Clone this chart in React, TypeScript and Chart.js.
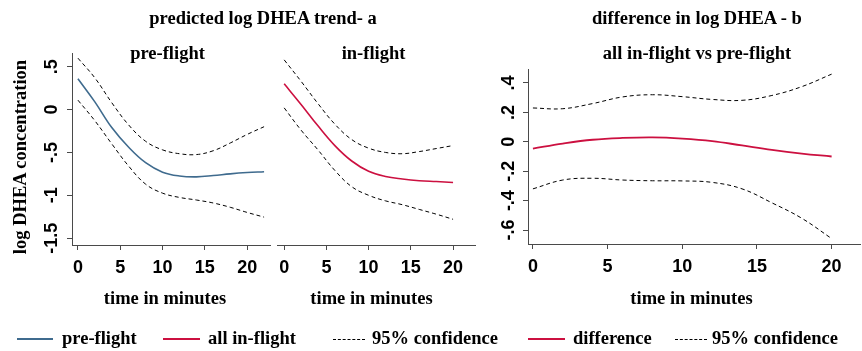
import React, { useEffect, useRef } from "react";
import { Chart, registerables } from "chart.js";

Chart.register(...registerables);

// ---------- data ----------
const timeA = [0, 2, 4, 6, 8, 10, 12, 14, 16, 18, 20, 22];
const preFlight = [0.36, 0.09, -0.21, -0.44, -0.62, -0.73, -0.775, -0.785, -0.77, -0.75, -0.735, -0.725];
const preUpper = [0.6, 0.37, 0.08, -0.18, -0.37, -0.47, -0.515, -0.525, -0.48, -0.39, -0.29, -0.2];
const preLower = [0.11, -0.13, -0.4, -0.66, -0.87, -0.975, -1.025, -1.055, -1.09, -1.14, -1.2, -1.255];

const timeB = [0, 2, 4, 6, 8, 10, 12, 14, 16, 18, 20];
const inFlight = [0.3, 0.06, -0.19, -0.42, -0.6, -0.72, -0.78, -0.81, -0.83, -0.84, -0.85];
const inUpper = [0.58, 0.33, 0.07, -0.17, -0.35, -0.45, -0.5, -0.515, -0.49, -0.455, -0.42];
const inLower = [0.02, -0.24, -0.47, -0.71, -0.9, -1.0, -1.065, -1.11, -1.165, -1.22, -1.28];

const timeC = [0, 2, 4, 6, 8, 10, 12, 14, 16, 18, 20];
const difference = [-0.046, -0.012, 0.014, 0.026, 0.03, 0.022, 0.005, -0.025, -0.055, -0.08, -0.1];
const diffUpper = [0.23, 0.225, 0.26, 0.305, 0.32, 0.307, 0.288, 0.282, 0.315, 0.375, 0.46];
const diffLower = [-0.32, -0.26, -0.248, -0.26, -0.265, -0.266, -0.276, -0.32, -0.415, -0.52, -0.658];

const xTicks = [0, 5, 10, 15, 20];
const trendTicks = [0.5, 0, -0.5, -1, -1.5];
const trendTickLabels = [".5", "0", "-.5", "-1", "-1.5"];
const diffTicks = [0.4, 0.2, 0, -0.2, -0.4, -0.6];
const diffTickLabels = [".4", ".2", "0", "-.2", "-.4", "-.6"];

// ---------- styles ----------
const BLUE = "#3f6b8e";
const RED = "#cc1040";
const AXIS = "#4a4a4a";
const SERIF = '"Liberation Serif", "Times New Roman", serif';
const SANS = '"Liberation Sans", Arial, sans-serif';

type Series = { t: number[]; v: number[]; color: string; width: number; dash: number[] };

function makeChart(
  canvas: HTMLCanvasElement,
  series: Series[],
  o: {
    xMin: number; xMax: number; yMin: number; yMax: number;
    yTicks: number[]; yLabels: string[]; showY: boolean; yWidth: number; labelX: number;
    padding: { left: number; top: number; right: number; bottom: number };
  }
) {
  const yLabelPlugin = {
    id: "rotYLabels",
    afterDraw(chart: any) {
      if (!o.showY) return;
      const s = chart.scales.y;
      const ctx = chart.ctx;
      ctx.save();
      ctx.font = `bold 18px ${SANS}`;
      ctx.fillStyle = "#000";
      ctx.textAlign = "center";
      ctx.textBaseline = "middle";
      o.yTicks.forEach((v, i) => {
        const py = s.getPixelForValue(v);
        ctx.save();
        ctx.translate(o.labelX, py);
        ctx.rotate(-Math.PI / 2);
        ctx.fillText(o.yLabels[i], 0, 0);
        ctx.restore();
      });
      ctx.restore();
    },
  };
  return new Chart(canvas, {
    type: "line",
    data: {
      datasets: series.map((s) => ({
        data: s.t.map((t, i) => ({ x: t, y: s.v[i] })),
        borderColor: s.color,
        borderWidth: s.width,
        borderDash: s.dash,
        pointRadius: 0,
        tension: 0.4,
        fill: false,
      })),
    },
    options: {
      animation: false,
      responsive: false,
      maintainAspectRatio: false,
      devicePixelRatio: 1,
      layout: { padding: o.padding },
      plugins: { legend: { display: false }, tooltip: { enabled: false } },
      scales: {
        x: {
          type: "linear",
          min: o.xMin,
          max: o.xMax,
          afterBuildTicks: (s: any) => { s.ticks = xTicks.map((v) => ({ value: v })); },
          afterFit: (s: any) => { s.height = 30; },
          grid: { display: true, drawOnChartArea: false, drawTicks: true, tickLength: 5, color: AXIS, tickColor: AXIS, lineWidth: 1 },
          border: { display: true, color: AXIS, width: 1 },
          ticks: {
            padding: 7, color: "#000", maxRotation: 0, autoSkip: false,
            font: { family: SANS, size: 18, weight: "bold" },
            callback: (v: any) => String(v),
          },
        },
        y: {
          type: "linear",
          display: o.showY,
          min: o.yMin,
          max: o.yMax,
          afterBuildTicks: (s: any) => { s.ticks = o.yTicks.map((v) => ({ value: v })); },
          afterFit: (s: any) => { s.width = o.yWidth; },
          grid: { display: true, drawOnChartArea: false, drawTicks: true, tickLength: 5, color: AXIS, tickColor: AXIS, lineWidth: 1 },
          border: { display: true, color: AXIS, width: 1 },
          ticks: { display: false },
        },
      },
    } as any,
    plugins: [yLabelPlugin],
  });
}

const dash = [4, 3];

function Txt({ x, y, children, size = 18.5 }: { x: number; y: number; children: any; size?: number }) {
  return (
    <div
      style={{
        position: "absolute", left: x, top: y - 0.8375 * size, transform: "translateX(-50%)",
        fontFamily: SERIF, fontWeight: "bold", fontSize: size, lineHeight: size + "px",
        whiteSpace: "nowrap", color: "#000",
      }}
    >
      {children}
    </div>
  );
}

function LTxt({ x, y, children, size = 18.5 }: { x: number; y: number; children: any; size?: number }) {
  return (
    <div
      style={{
        position: "absolute", left: x, top: y - 0.8375 * size,
        fontFamily: SERIF, fontWeight: "bold", fontSize: size, lineHeight: size + "px",
        whiteSpace: "nowrap", color: "#000",
      }}
    >
      {children}
    </div>
  );
}

function Swatch({ x1, x2, y, color, dashed }: { x1: number; x2: number; y: number; color: string; dashed?: boolean }) {
  return (
    <div
      style={{
        position: "absolute", left: x1, top: y, width: x2 - x1, height: 0,
        borderTop: dashed ? `1px dashed ${color}` : `2px solid ${color}`,
      }}
    />
  );
}

export default function App() {
  const refA = useRef<HTMLCanvasElement>(null);
  const refB = useRef<HTMLCanvasElement>(null);
  const refC = useRef<HTMLCanvasElement>(null);

  useEffect(() => {
    const a = makeChart(refA.current!, [
      { t: timeA, v: preUpper, color: "#000", width: 1, dash },
      { t: timeA, v: preLower, color: "#000", width: 1, dash },
      { t: timeA, v: preFlight, color: BLUE, width: 1.6, dash: [] },
    ], {
      xMin: -0.7, xMax: 22.7, yMin: -1.58, yMax: 0.66, yTicks: trendTicks, yLabels: trendTickLabels,
      showY: true, yWidth: 72, labelX: 52.5, padding: { left: 0, top: 53, right: 5, bottom: 76 },
    });
    const b = makeChart(refB.current!, [
      { t: timeB, v: inUpper, color: "#000", width: 1, dash },
      { t: timeB, v: inLower, color: "#000", width: 1, dash },
      { t: timeB, v: inFlight, color: RED, width: 1.6, dash: [] },
    ], {
      xMin: -0.83, xMax: 22.6, yMin: -1.58, yMax: 0.66, yTicks: trendTicks, yLabels: trendTickLabels,
      showY: false, yWidth: 0, labelX: 0, padding: { left: 5, top: 53, right: 5, bottom: 76 },
    });
    const c = makeChart(refC.current!, [
      { t: timeC, v: diffUpper, color: "#000", width: 1, dash },
      { t: timeC, v: diffLower, color: "#000", width: 1, dash },
      { t: timeC, v: difference, color: RED, width: 1.8, dash: [] },
    ], {
      xMin: -0.33, xMax: 21.9, yMin: -0.695, yMax: 0.495, yTicks: diffTicks, yLabels: diffTickLabels,
      showY: true, yWidth: 58, labelX: 39.5, padding: { left: 0, top: 69, right: 2, bottom: 77 },
    });
    return () => { a.destroy(); b.destroy(); c.destroy(); };
  }, []);

  return (
    <div style={{ position: "fixed", left: 0, top: 0, width: 862, height: 351, background: "#fff", overflow: "hidden" }}>
      <canvas ref={refA} width={275} height={351} style={{ position: "absolute", left: 0, top: 0, width: 275, height: 351 }} />
      <canvas ref={refB} width={208} height={351} style={{ position: "absolute", left: 272, top: 0, width: 208, height: 351 }} />
      <canvas ref={refC} width={392} height={351} style={{ position: "absolute", left: 470, top: 0, width: 392, height: 351 }} />

      <Txt x={263} y={24}>predicted log DHEA trend- a</Txt>
      <Txt x={167.5} y={59}>pre-flight</Txt>
      <Txt x={373.5} y={59}>in-flight</Txt>
      <Txt x={697} y={24}>difference in log DHEA - b</Txt>
      <Txt x={697} y={59}>all in-flight vs pre-flight</Txt>

      <Txt x={165} y={304}>time in minutes</Txt>
      <Txt x={371.5} y={304}>time in minutes</Txt>
      <Txt x={691.5} y={304}>time in minutes</Txt>

      <div
        style={{
          position: "absolute", left: 19.5, top: 157, transform: "translate(-50%, -50%) rotate(-90deg)",
          fontFamily: SERIF, fontWeight: "bold", fontSize: 18.5, lineHeight: "18.5px", whiteSpace: "nowrap", color: "#000",
        }}
      >
        log DHEA concentration
      </div>

      <Swatch x1={17} x2={53} y={338} color={BLUE} />
      <LTxt x={62} y={344}>pre-flight</LTxt>
      <Swatch x1={163} x2={200} y={338} color={RED} />
      <LTxt x={208} y={344}>all in-flight</LTxt>
      <Swatch x1={333} x2={365} y={339} color="#000" dashed />
      <LTxt x={372} y={344}>95% confidence</LTxt>
      <Swatch x1={528} x2={565} y={338} color={RED} />
      <LTxt x={573} y={344}>difference</LTxt>
      <Swatch x1={675} x2={707} y={339} color="#000" dashed />
      <LTxt x={712} y={344}>95% confidence</LTxt>
    </div>
  );
}
